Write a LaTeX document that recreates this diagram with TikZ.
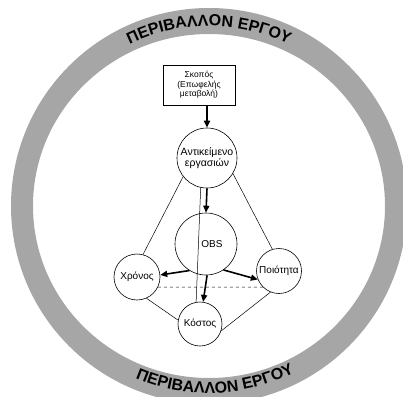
\documentclass[tikz,border=0pt]{standalone}
\usepackage{fontspec}
\setmainfont{Liberation Sans}
\usetikzlibrary{arrows.meta,decorations.text}
\tikzset{
  circ/.style={circle,draw,line width=0.6pt,inner sep=0pt,font=\fontsize{10}{11}\selectfont},
  link/.style={line width=0.5pt},
  bigarrow/.style={line width=1.6pt,-{Triangle[length=7pt,width=6pt]}},
  ringtext/.style={decorate,decoration={text along path,text align=center,
    text={|\bfseries\fontsize{16}{16}\selectfont|#1}}}
}
\begin{document}
\begin{tikzpicture}[x=1pt,y=1pt]
  \useasboundingbox (-209,-190) rectangle (194,206);
  \fill[black!35,even odd rule] (0,0) ellipse [x radius=198,y radius=198]
    (0,0) ellipse [x radius=176,y radius=172];
  \path[ringtext={ΠΕΡΙΒΑΛΛΟΝ ΕΡΓΟΥ}] (160:180) arc[start angle=160,end angle=20,radius=180];
  \path[ringtext={ΠΕΡΙΒΑΛΛΟΝ ΕΡΓΟΥ}] (202:187) arc[start angle=202,end angle=342,radius=187];

  \node[draw,line width=0.6pt,minimum width=72pt,minimum height=40pt,align=center,
    font=\fontsize{8.5}{9.5}\selectfont] (goal) at (-10,121) {Σκοπός\\(Επωφελής\\μεταβολή)};
  \node[circ,minimum size=60pt,align=center,font=\fontsize{10.5}{11.5}\selectfont] (obj) at (-2,48) {Αντικείμενο\\εργασιών};
  \node[circ,minimum size=62pt,label={[xshift=6pt,font=\fontsize{10}{11}\selectfont]center:OBS}] (obs) at (-3,-38) {};
  \node[circ,minimum size=46pt] (time) at (-72,-71) {Χρόνος};
  \node[circ,minimum size=45pt] (qual) at (70,-65) {Ποιότητα};
  \node[circ,minimum size=44pt] (cost) at (-9,-118) {Κόστος};

  \draw[link] (obj.218) -- (time.75);
  \draw[link] (obj.329) -- (qual.107);
  \draw[link] (obj.258) -- (cost.100);
  \draw[link] (time.294) -- (cost.170);
  \draw[link] (qual.248) -- (cost.342);
  \draw[link,dashed] (time.-26) -- (qual.225);

  \draw[bigarrow] (goal.south -| obj.north) -- (obj.north);
  \draw[bigarrow] (obj.south) -- (obs.north);
  \draw[bigarrow] (obs.238) -- (time.5);
  \draw[bigarrow] (obs.304) -- (qual.202);
  \draw[bigarrow] (obs.272) -- (cost.82);
\end{tikzpicture}
\end{document}
